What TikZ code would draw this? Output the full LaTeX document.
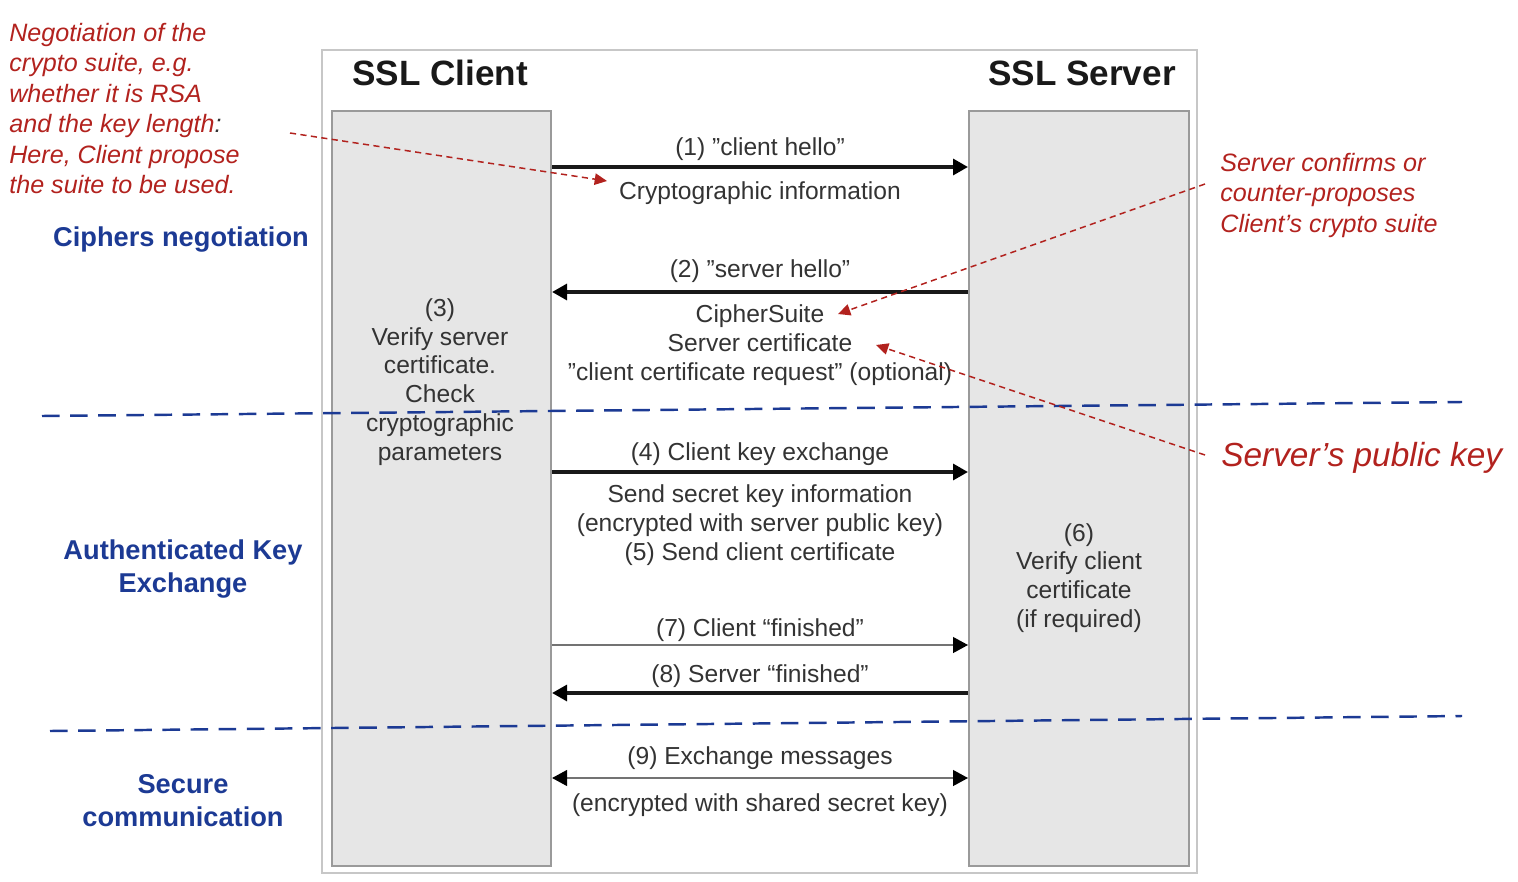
\documentclass[tikz,border=0pt]{standalone}
\usepackage{fontspec}
\setmainfont{Liberation Sans}
\usetikzlibrary{arrows.meta}
\definecolor{msgc}{HTML}{333333}
\definecolor{boxfill}{HTML}{E6E6E6}
\definecolor{boxline}{HTML}{9A9A9A}
\definecolor{annred}{HTML}{B2221E}
\definecolor{phaseblue}{HTML}{1C3A94}
\newcommand{\sq}{\symbol{34}}
\begin{document}
\begin{tikzpicture}[x=0.02cm,y=-0.02cm,
  colbox/.style={draw=boxline, fill=boxfill, line width=1.2pt, inner sep=0, anchor=north west},
  msg/.style={font=\fontsize{14}{16.4}\selectfont, text=msgc, inner sep=0, align=center},
  title/.style={font=\bfseries\fontsize{20}{24}\selectfont, text=black!90, inner sep=0},
  heavy/.style={line width=2pt, draw=black!90, -{Triangle[length=8.5pt,width=9pt,color=black]}},
  light/.style={line width=0.9pt, draw=black!55, -{Triangle[length=8.5pt,width=9pt,color=black]}},
  lightboth/.style={line width=0.9pt, draw=black!55, {Triangle[length=8.5pt,width=9pt,color=black]}-{Triangle[length=8.5pt,width=9pt,color=black]}},
  phase/.style={draw=phaseblue, line width=1.4pt, dash pattern=on 10pt off 6pt},
  phaselabel/.style={text=phaseblue, font=\bfseries\fontsize{15.5}{18.7}\selectfont, align=center, inner sep=0},
  note/.style={text=annred, font=\itshape\fontsize{14.3}{17.3}\selectfont, inner sep=0, align=left},
  rdash/.style={draw=annred, line width=0.85pt, dash pattern=on 3.5pt off 2.5pt, -{Triangle[length=7pt,width=6.5pt]}}
]
\useasboundingbox (0,0) rectangle (1518,882);
% outer frame
\draw[draw=black!22, line width=0.6pt] (322,50) rectangle (1197,873);
% column boxes
\node (client) [colbox, minimum width=4.38cm, minimum height=15.1cm] at (331,110) {};
\node (server) [colbox, minimum width=4.4cm, minimum height=15.1cm] at (968,110) {};
% titles
\node (tclient) [title] at (440,73) {SSL Client};
\node (tserver) [title] at (1082,73) {SSL Server};
% messages
\draw[heavy] (client.east |- 0,167) -- (server.west |- 0,167);
\node (m1a) [msg] at (760,149) {(1) \sq client hello''};
\node (m1b) [msg] at (760,193) {Cryptographic information};
\draw[heavy] (server.west |- 0,292) -- (client.east |- 0,292);
\node (m2a) [msg] at (760,271) {(2) \sq server hello''};
\node (m2b) [msg] at (760,345) {CipherSuite\\Server certificate\\\sq client certificate request\sq{} (optional)};
\node (m3) [msg] at (440,382) {(3)\\Verify server\\certificate.\\Check\\cryptographic\\parameters};
\draw[heavy] (client.east |- 0,472) -- (server.west |- 0,472);
\node (m4a) [msg] at (760,454) {(4) Client key exchange};
\node (m4b) [msg] at (760,525) {Send secret key information\\(encrypted with server public key)\\(5) Send client certificate};
\node (m6) [msg] at (1079,578) {(6)\\Verify client\\certificate\\(if required)};
\draw[light] (client.east |- 0,645) -- (server.west |- 0,645);
\node (m7) [msg] at (760,630) {(7) Client ``finished''};
\draw[heavy] (server.west |- 0,693) -- (client.east |- 0,693);
\node (m8) [msg] at (760,676) {(8) Server ``finished''};
\draw[lightboth] (client.east |- 0,778) -- (server.west |- 0,778);
\node (m9a) [msg] at (760,758) {(9) Exchange messages};
\node (m9b) [msg] at (760,805) {(encrypted with shared secret key)};
% phase separators
\coordinate (p1s) at (42,416);
\coordinate (p1e) at (1462,402);
\coordinate (p2s) at (50,731);
\coordinate (p2e) at (1462,716);
\draw[phase] (p1s) -- (p1e);
\draw[phase] (p2s) -- (p2e);
% phase labels
\node (ph1) [phaselabel] at (181,240) {Ciphers negotiation};
\node (ph2) [phaselabel] at (183,569) {Authenticated Key\\Exchange};
\node (ph3) [phaselabel] at (183,801) {Secure\\communication};
% annotations
\node (n1) [note, anchor=north west] at (9,23) {Negotiation of the\\crypto suite, e.g.\\whether it is RSA\\and the key length\textcolor{black!80}{:}\\Here, Client propose\\the suite to be used.};
\node (n2) [note, anchor=north west] at (1220,153) {Server confirms or\\counter-proposes\\Client’s crypto suite};
\node (n3) [note, anchor=base west, font=\itshape\fontsize{19}{22}\selectfont] at (1221,466) {Server’s public key};
\coordinate (a1s) at (290,133);
\coordinate (a1e) at (607,181);
\coordinate (a2s) at (1205,184);
\coordinate (a2e) at (838,314);
\coordinate (a3s) at (1205,455);
\coordinate (a3e) at (876,345);
\draw[rdash] (a1s) -- (a1e);
\draw[rdash] (a2s) -- (a2e);
\draw[rdash] (a3s) -- (a3e);
\end{tikzpicture}
\end{document}
